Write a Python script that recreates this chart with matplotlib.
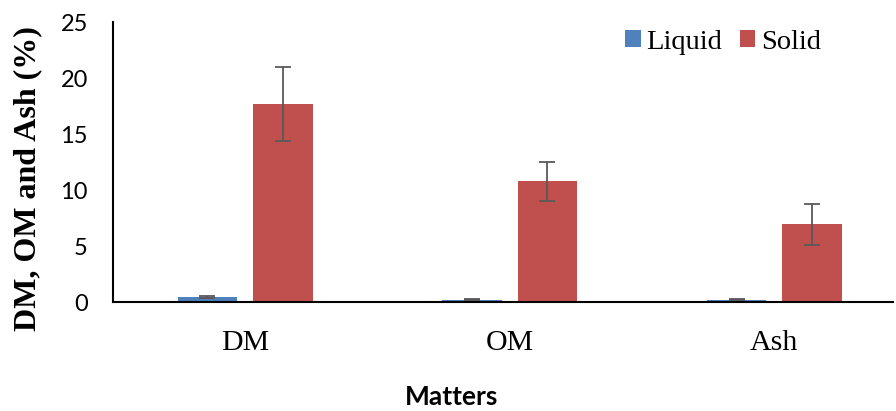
import matplotlib.pyplot as plt
import numpy as np

plt.rcParams['font.family'] = ['Liberation Serif', 'DejaVu Serif']

categories = ["DM", "OM", "Ash"]
liquid = [0.45, 0.2, 0.2]
liquid_err = [0.05, 0.05, 0.05]
solid = [17.7, 10.8, 6.95]
solid_err = [3.3, 1.75, 1.85]

x = np.arange(len(categories))
w = 0.225

fig = plt.figure(figsize=(8.96, 4.11), dpi=100)
ax = fig.add_axes([0.126, 0.265, 0.871, 0.681])

ekw = dict(ecolor="#595959", elinewidth=1.3, capsize=6, capthick=1.3)
ax.bar(x - w / 2 - 0.03, liquid, w, yerr=liquid_err, color="#4f81bd", label="Liquid", error_kw=ekw)
ax.bar(x + w / 2 + 0.03, solid, w, yerr=solid_err, color="#c0504d", label="Solid", error_kw=ekw)

ax.set_xlim(-0.5, 2.45)
ax.set_ylim(0, 25)
ax.set_yticks([0, 5, 10, 15, 20, 25])
ax.set_xticks(x)
ax.set_xticklabels(categories)
ax.tick_params(axis="both", length=0)
ax.tick_params(axis="x", pad=20, labelsize=21.5)
ax.tick_params(axis="y", pad=18, labelsize=17)
for lab in ax.get_yticklabels():
    lab.set_family(["Lato", "DejaVu Sans"])

for s in ["top", "right"]:
    ax.spines[s].set_visible(False)
ax.spines["bottom"].set_linewidth(1.5)
ax.spines["left"].set_linewidth(1.5)

fig.text(0.031, 0.565, "DM, OM and Ash (%)", rotation=90, ha="center", va="center",
         fontsize=23, fontweight="bold")
fig.text(0.504, 0.034, "Matters", ha="center", va="center", fontsize=19,
         fontweight="bold", family=["Lato", "DejaVu Sans"])

ax.legend(loc="upper right", bbox_to_anchor=(0.94, 1.065), ncol=2, frameon=False, fontsize=20.5,
          handlelength=0.55, handleheight=0.55, handletextpad=0.2, columnspacing=0.6)

fig.savefig("out.png", dpi=100)
